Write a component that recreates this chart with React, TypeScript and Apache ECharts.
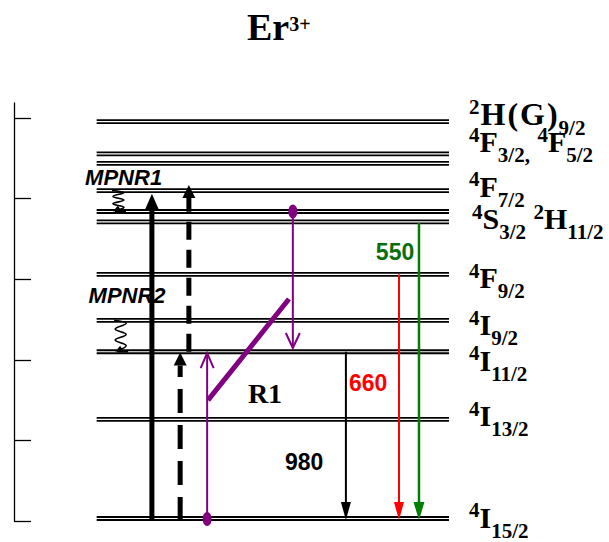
import React, { useEffect, useRef } from 'react';
import * as echarts from 'echarts';

// Energy axis (cm^-1): unlabelled ticks every 5000
const ENERGY_TICKS = [0, 5000, 10000, 15000, 20000, 25000];
const ENERGY_MAX = 25930;

// Er3+ manifolds and their energies (cm^-1)
const LEVEL_NAMES = ['4I15/2', '4I13/2', '4I11/2', '4I9/2', '4F9/2', '4S3/2', '2H11/2', '4F7/2', '4F3/2', '4F5/2', '2H9/2'];
const LEVEL_ENERGY = [155, 6300, 10500, 12450, 15300, 18550, 19200, 20500, 22180, 22770, 24780];

// Level names as drawn at the right end (rich-text markup) and the level each one sits on
const LEVEL_LABEL_TEXT = [
  '{s|2}{w|H}{w|(}{w|G}{w|)}{b|9/2}',
  '{s|4}{m|F}{b|3/2,}{m| }{s|4}{m|F}{b|5/2}',
  '{s|4}{m|F}{b|7/2}',
  '{s|4}{m|S}{b|3/2}{m| }{s|2}{m|H}{b|11/2}',
  '{s|4}{m|F}{b|9/2}',
  '{s|4}{m|I}{b|9/2}',
  '{s|4}{m|I}{b|11/2}',
  '{s|4}{m|I}{b|13/2}',
  '{s|4}{m|I}{b|15/2}',
];
const LEVEL_LABEL_OF = ['2H9/2', '4F5/2', '4F7/2', '4S3/2', '4F9/2', '4I9/2', '4I11/2', '4I13/2', '4I15/2'];

// Transitions: horizontal slot, start and end energy (cm^-1)
const TRANSITION_KIND = ['pump', 'pumpDashed', 'esaDashed', 'purpleUp', 'purpleDown', 'emit980', 'emit660', 'emit550'];
const TRANSITION_X = [31.7, 38.2, 40.2, 44.4, 64.1, 76.3, 88.5, 93.1];
const TRANSITION_FROM = [0, 0, 10500, 124, 19200, 10500, 15300, 18480];
const TRANSITION_TO = [20300, 10450, 20850, 10420, 10730, 60, 60, 60];

// Population markers on the purple transitions
const DOT_X = [44.4, 64.1];
const DOT_ENERGY = [124, 19200];

// Cross-relaxation link R1
const CROSS_RELAX_X = [44.6, 63.2];
const CROSS_RELAX_ENERGY = [7500, 13770];

// Multiphonon relaxation steps
const MPNR_X = [23.9, 24.4];
const MPNR_TOP = [20500, 12450];
const MPNR_BOTTOM = [19200, 10500];

// Annotations
const NOTE_TEXT = ['MPNR1', 'MPNR2', 'R1', '980', '660', '550'];
const NOTE_X = [25.2, 26.0, 57.7, 66.7, 81.4, 87.6];
const NOTE_ENERGY = [21280, 13960, 7880, 3660, 8560, 16690];

const INK = '#000000';
const PURPLE = '#800080';
const RED = '#ff0000';
const GREEN = '#008000';
const SERIF = '"Liberation Serif", "Times New Roman", serif';
const SANS = '"Liberation Sans", Arial, sans-serif';

const LEVEL_X0 = 19;
const LEVEL_X1 = 100;
const LABEL_GAP = 20;
const LABEL_DX = [0, 0, 0, 3, 0, 0, 0, 0, 0];
const LABEL_DY = [-7.5, -12, -4.5, -3, 3.5, 4.5, 8.5, -3.5, -1.5];

type ArrowStyle = { color: string; width: number; dash?: number[]; head: 'fill' | 'open'; hw: number; hl: number };
const ARROW_STYLE: Record<string, ArrowStyle> = {
  pump: { color: INK, width: 5, head: 'fill', hw: 7, hl: 16 },
  pumpDashed: { color: INK, width: 5, dash: [24, 12], head: 'fill', hw: 6.5, hl: 13 },
  esaDashed: { color: INK, width: 5, dash: [18, 10], head: 'fill', hw: 6.5, hl: 13 },
  purpleUp: { color: PURPLE, width: 2, head: 'open', hw: 6.5, hl: 15 },
  purpleDown: { color: PURPLE, width: 2, head: 'open', hw: 7, hl: 15 },
  emit980: { color: INK, width: 2, head: 'fill', hw: 5, hl: 18 },
  emit660: { color: RED, width: 2, head: 'fill', hw: 5, hl: 18 },
  emit550: { color: GREEN, width: 2.5, head: 'fill', hw: 5.5, hl: 18 },
};

const NOTE_STYLE = [
  { fontFamily: SANS, fontWeight: 'bold', fontStyle: 'italic', fontSize: 22, fill: INK },
  { fontFamily: SANS, fontWeight: 'bold', fontStyle: 'italic', fontSize: 22, fill: INK },
  { fontFamily: SERIF, fontWeight: 'bold', fontSize: 28, fill: INK },
  { fontFamily: SANS, fontWeight: 'bold', fontSize: 23, fill: INK },
  { fontFamily: SANS, fontWeight: 'bold', fontSize: 23, fill: RED },
  { fontFamily: SANS, fontWeight: 'bold', fontSize: 23, fill: '#0a6e0a' },
];

// Spring-like squiggle: [dx px, fraction of the drop]
const SQUIGGLE = [[-6, 0], [6, 0.1], [-5, 0.28], [6, 0.45], [-5, 0.63], [6, 0.8], [-2, 0.95]];

// Superscripts sit in a 26px box at the top of the 40px line, subscripts in a 13px box at its bottom
const LABEL_RICH = {
  m: { fontFamily: SERIF, fontWeight: 'bold', fontSize: 30, lineHeight: 40, color: INK },
  w: { fontFamily: SERIF, fontWeight: 'bold', fontSize: 32, lineHeight: 40, padding: [0, 1, 0, 1], color: INK },
  s: { fontFamily: SERIF, fontWeight: 'bold', fontSize: 21, height: 26, lineHeight: 26, verticalAlign: 'top', color: INK },
  b: { fontFamily: SERIF, fontWeight: 'bold', fontSize: 21, height: 13, lineHeight: 13, verticalAlign: 'bottom', color: INK },
};

function buildOption(): any {
  const levelIndex = (name: string) => LEVEL_NAMES.indexOf(name);

  const renderLevel = (_p: any, api: any) => {
    const a = api.coord([api.value(0), api.value(1)]);
    const b = api.coord([api.value(2), api.value(1)]);
    return {
      type: 'group',
      children: [-1.5, 1.5].map((d) => ({
        type: 'line',
        shape: { x1: a[0], y1: a[1] + d, x2: b[0], y2: b[1] + d },
        style: { stroke: INK, lineWidth: 1.8 },
      })),
    };
  };

  const renderLabel = (p: any, api: any) => {
    const c = api.coord([api.value(0), api.value(1)]);
    return {
      type: 'text',
      style: {
        text: LEVEL_LABEL_TEXT[p.dataIndex],
        x: c[0] + LABEL_GAP + LABEL_DX[p.dataIndex],
        y: c[1] + LABEL_DY[p.dataIndex],
        align: 'left',
        verticalAlign: 'middle',
        fontFamily: SERIF,
        fontWeight: 'bold',
        fontSize: 30,
        rich: LABEL_RICH,
      },
    };
  };

  const renderArrow = (p: any, api: any) => {
    const st = ARROW_STYLE[TRANSITION_KIND[p.dataIndex]];
    const a = api.coord([api.value(0), api.value(1)]);
    const b = api.coord([api.value(0), api.value(2)]);
    const x = a[0];
    const dir = b[1] < a[1] ? -1 : 1;
    const base = b[1] - dir * st.hl;
    const shaftEnd = st.head === 'fill' ? base : b[1] - dir;
    const head = [[x - st.hw, base], [x, b[1]], [x + st.hw, base]];
    return {
      type: 'group',
      children: [
        {
          type: 'line',
          shape: { x1: x, y1: a[1], x2: x, y2: shaftEnd },
          style: { stroke: st.color, lineWidth: st.width, lineDash: st.dash || null },
        },
        st.head === 'fill'
          ? { type: 'polygon', shape: { points: head }, style: { fill: st.color } }
          : { type: 'polyline', shape: { points: head }, style: { stroke: st.color, lineWidth: 2, fill: null } },
      ],
    };
  };

  const renderDot = (_p: any, api: any) => {
    const c = api.coord([api.value(0), api.value(1)]);
    return { type: 'ellipse', shape: { cx: c[0], cy: c[1], rx: 4.5, ry: 7 }, style: { fill: PURPLE } };
  };

  const renderCross = (_p: any, api: any) => {
    const a = api.coord([CROSS_RELAX_X[0], CROSS_RELAX_ENERGY[0]]);
    const b = api.coord([CROSS_RELAX_X[1], CROSS_RELAX_ENERGY[1]]);
    return {
      type: 'line',
      shape: { x1: a[0], y1: a[1], x2: b[0], y2: b[1] },
      style: { stroke: PURPLE, lineWidth: 5 },
    };
  };

  const renderSquiggle = (_p: any, api: any) => {
    const top = api.coord([api.value(0), api.value(1)]);
    const bot = api.coord([api.value(0), api.value(2)]);
    const h = bot[1] - top[1];
    const pts = SQUIGGLE.map(([dx, t]) => [top[0] + dx, top[1] + t * h]);
    const cx = top[0];
    const by = bot[1];
    return {
      type: 'group',
      children: [
        { type: 'polyline', shape: { points: pts, smooth: 0.4 }, style: { stroke: INK, lineWidth: 1.6, fill: null } },
        { type: 'polygon', shape: { points: [[cx - 5, by], [cx, by - 6], [cx + 3, by - 1]] }, style: { fill: INK } },
        { type: 'line', shape: { x1: cx - 3, y1: by, x2: cx + 8, y2: by }, style: { stroke: INK, lineWidth: 1.6 } },
      ],
    };
  };

  const renderNote = (p: any, api: any) => {
    const c = api.coord([api.value(0), api.value(1)]);
    return {
      type: 'text',
      style: {
        text: NOTE_TEXT[p.dataIndex],
        x: c[0],
        y: c[1],
        align: 'center',
        verticalAlign: 'middle',
        ...NOTE_STYLE[p.dataIndex],
      },
    };
  };

  const custom = (name: string, data: number[][], renderItem: any, encode: any) => ({
    type: 'custom',
    name,
    coordinateSystem: 'cartesian2d',
    silent: true,
    clip: false,
    data,
    encode,
    renderItem,
  });

  return {
    animation: false,
    backgroundColor: '#ffffff',
    title: {
      text: '{a|Er}{b|3+}',
      left: 247,
      top: 7,
      padding: 0,
      textStyle: {
        rich: {
          a: { fontFamily: SERIF, fontWeight: 'bold', fontSize: 38, lineHeight: 40, color: INK },
          b: { fontFamily: SERIF, fontWeight: 'bold', fontSize: 20, height: 33, lineHeight: 33, verticalAlign: 'top', color: INK },
        },
      },
    },
    grid: { left: 14, right: 160, top: 103, bottom: 21 },
    xAxis: { type: 'value', min: 0, max: 100, show: false },
    yAxis: {
      type: 'value',
      min: 0,
      max: ENERGY_MAX,
      axisLine: { show: true, lineStyle: { color: INK, width: 1.3 } },
      axisTick: { show: true, inside: true, length: 17, customValues: ENERGY_TICKS, lineStyle: { color: INK, width: 1.3 } },
      axisLabel: { show: false },
      splitLine: { show: false },
    },
    series: [
      custom('levels', LEVEL_ENERGY.map((e) => [LEVEL_X0, e, LEVEL_X1]), renderLevel, { x: [0, 2], y: 1 }),
      custom(
        'levelNames',
        LEVEL_LABEL_OF.map((n) => [LEVEL_X1, LEVEL_ENERGY[levelIndex(n)]]),
        renderLabel,
        { x: 0, y: 1 },
      ),
      custom('notes', NOTE_TEXT.map((_, i) => [NOTE_X[i], NOTE_ENERGY[i]]), renderNote, { x: 0, y: 1 }),
      custom('mpnr', MPNR_X.map((x, i) => [x, MPNR_TOP[i], MPNR_BOTTOM[i]]), renderSquiggle, { x: 0, y: [1, 2] }),
      custom('crossRelaxation', [[CROSS_RELAX_X[0], CROSS_RELAX_ENERGY[0]]], renderCross, { x: 0, y: 1 }),
      custom(
        'transitions',
        TRANSITION_X.map((x, i) => [x, TRANSITION_FROM[i], TRANSITION_TO[i]]),
        renderArrow,
        { x: 0, y: [1, 2] },
      ),
      custom('population', DOT_X.map((x, i) => [x, DOT_ENERGY[i]]), renderDot, { x: 0, y: 1 }),
    ],
  };
}

export default function App() {
  const ref = useRef<HTMLDivElement>(null);
  useEffect(() => {
    if (!ref.current) return;
    const chart = echarts.init(ref.current, null, { renderer: 'svg' });
    chart.setOption(buildOption());
    return () => chart.dispose();
  }, []);
  return (
    <div
      ref={ref}
      style={{ position: 'fixed', left: 0, top: 0, width: 609, height: 542, background: '#ffffff' }}
    />
  );
}
